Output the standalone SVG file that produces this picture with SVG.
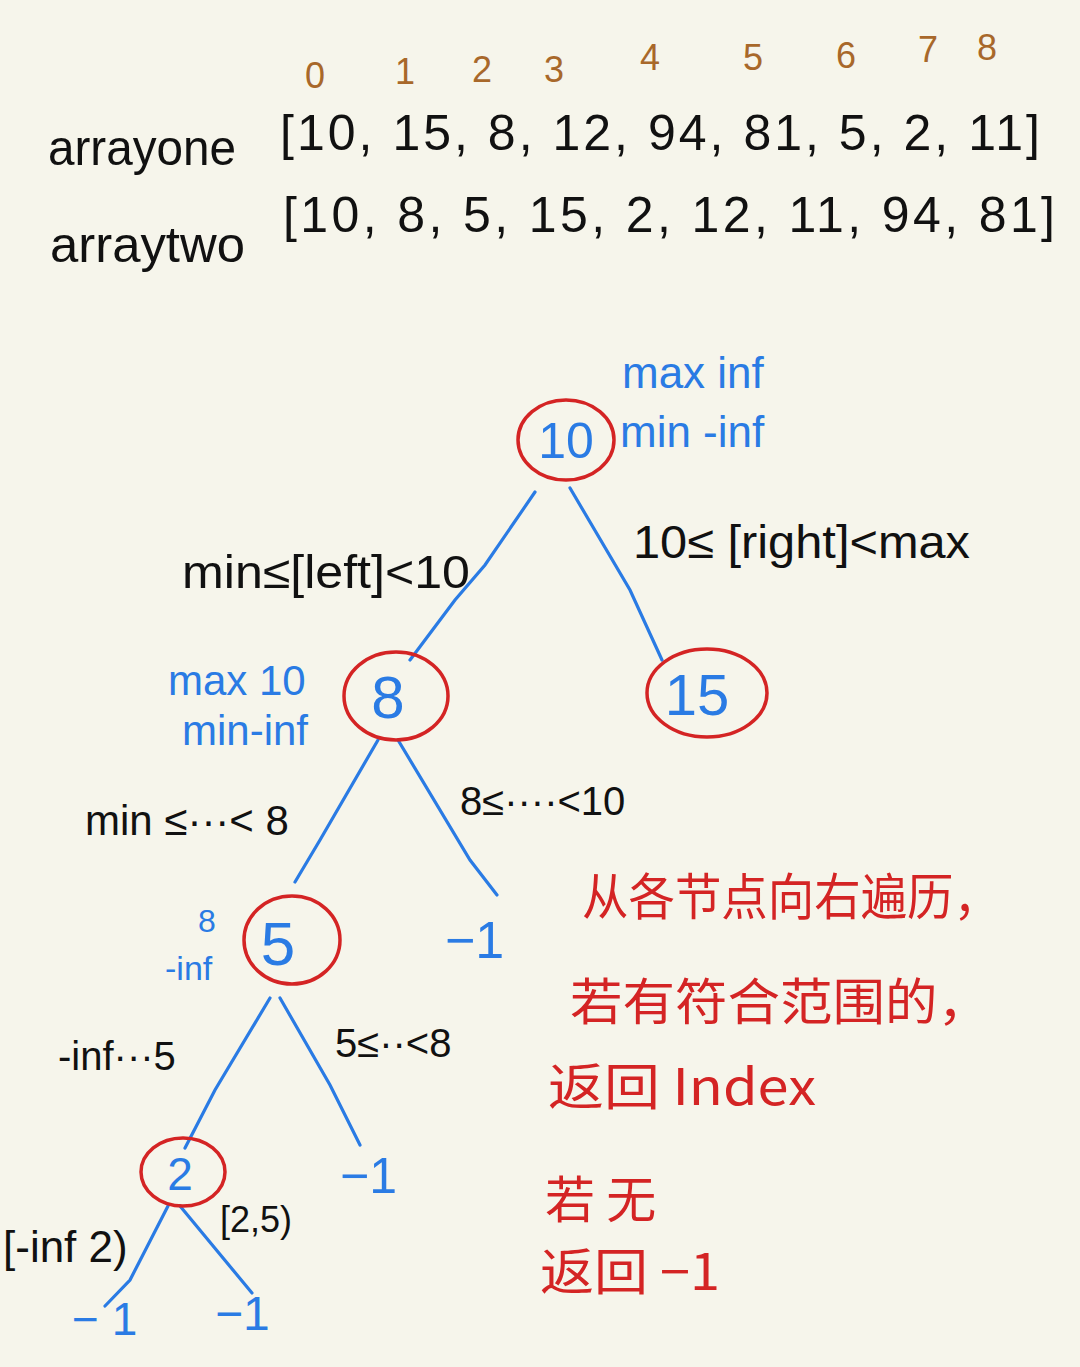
<svg xmlns="http://www.w3.org/2000/svg" width="1080" height="1367" viewBox="0 0 1080 1367">
<style>
.k{fill:#111;font-family:"Liberation Sans","Noto Sans",sans-serif}
.b{fill:#2a7be4;font-family:"Liberation Sans","Noto Sans",sans-serif}
.i{fill:#a8682a;font-family:"Liberation Sans",sans-serif;font-size:36px}
.r{fill:#d42424;font-family:"Noto Sans CJK SC","Liberation Sans",sans-serif;font-size:50px}
.ring{fill:none;stroke:#d42424;stroke-width:3.5}
.e{fill:none;stroke:#2a7be4;stroke-width:3.2;stroke-linecap:round}
</style>
<rect width="1080" height="1367" fill="#f6f5eb"/>
<g id="indices">
<text class="i" x="305" y="88">0</text>
<text class="i" x="395" y="84">1</text>
<text class="i" x="472" y="82">2</text>
<text class="i" x="544" y="82">3</text>
<text class="i" x="640" y="70">4</text>
<text class="i" x="743" y="70">5</text>
<text class="i" x="836" y="68">6</text>
<text class="i" x="918" y="62">7</text>
<text class="i" x="977" y="60">8</text>
</g>
<g id="arrays">
<text class="k" x="48" y="165" font-size="50" textLength="188" lengthAdjust="spacingAndGlyphs">arrayone</text>
<text class="k" x="280" y="150" font-size="50" textLength="760" lengthAdjust="spacing">[10, 15, 8, 12, 94, 81, 5, 2, 11]</text>
<text class="k" x="50" y="262" font-size="50" textLength="195" lengthAdjust="spacingAndGlyphs">arraytwo</text>
<text class="k" x="283" y="232" font-size="50" textLength="772" lengthAdjust="spacing">[10, 8, 5, 15, 2, 12, 11, 94, 81]</text>
</g>
<g id="connectors">
<path class="e" d="M535 492 L485 565 L455 600 L410 660"/>
<path class="e" d="M570 488 L630 590 L662 660"/>
<path class="e" d="M378 740 L320 840 L295 882"/>
<path class="e" d="M398 740 L470 860 L497 895"/>
<path class="e" d="M270 998 L215 1090 L185 1148"/>
<path class="e" d="M280 998 L330 1085 L360 1145"/>
<path class="e" d="M168 1206 L130 1280 L105 1306"/>
<path class="e" d="M180 1206 L252 1293"/>
</g>
<g id="node-10">
<ellipse class="ring" cx="566" cy="440" rx="48" ry="40"/>
<text class="b" x="566" y="458" font-size="50" text-anchor="middle">10</text>
<text class="b" x="622" y="388" font-size="44">max inf</text>
<text class="b" x="620" y="447" font-size="44">min -inf</text>
</g>
<g id="edge-labels-10">
<text class="k" x="182" y="588" font-size="46" textLength="288" lengthAdjust="spacingAndGlyphs">min≤[left]&lt;10</text>
<text class="k" x="633" y="558" font-size="46" textLength="337" lengthAdjust="spacingAndGlyphs">10≤ [right]&lt;max</text>
</g>
<g id="node-8">
<ellipse class="ring" cx="396" cy="696" rx="52" ry="44"/>
<text class="b" x="388" y="718" font-size="60" text-anchor="middle">8</text>
<text class="b" x="168" y="695" font-size="42">max 10</text>
<text class="b" x="182" y="745" font-size="42">min-inf</text>
</g>
<g id="node-15">
<ellipse class="ring" cx="707" cy="693" rx="60" ry="44"/>
<text class="b" x="697" y="715" font-size="58" text-anchor="middle">15</text>
</g>
<g id="edge-labels-8">
<text class="k" x="85" y="835" font-size="42">min ≤···&lt; 8</text>
<text class="k" x="460" y="815" font-size="40">8≤····&lt;10</text>
</g>
<g id="node-5">
<ellipse class="ring" cx="292" cy="940" rx="48" ry="44"/>
<text class="b" x="278" y="965" font-size="62" text-anchor="middle">5</text>
<text class="b" x="198" y="932" font-size="32">8</text>
<text class="b" x="165" y="980" font-size="34">-inf</text>
</g>
<g id="leaf-8-right">
<text class="b" x="445" y="958" font-size="52">−1</text>
</g>
<g id="edge-labels-5">
<text class="k" x="58" y="1070" font-size="40">-inf···5</text>
<text class="k" x="335" y="1057" font-size="40">5≤··&lt;8</text>
</g>
<g id="leaf-5-right">
<text class="b" x="340" y="1193" font-size="50">−1</text>
</g>
<g id="node-2">
<ellipse class="ring" cx="183" cy="1172" rx="42" ry="34"/>
<text class="b" x="180" y="1190" font-size="46" text-anchor="middle">2</text>
</g>
<g id="edge-labels-2">
<text class="k" x="3" y="1262" font-size="44">[-inf 2)</text>
<text class="k" x="220" y="1232" font-size="36">[2,5)</text>
</g>
<g id="leaf-2-left">
<text class="b" x="72" y="1335" font-size="46">− 1</text>
</g>
<g id="leaf-2-right">
<text class="b" x="215" y="1330" font-size="48">−1</text>
</g>
<g id="note">
<text class="r" x="582" y="915" textLength="418" lengthAdjust="spacingAndGlyphs">从各节点向右遍历，</text>
<text class="r" x="570" y="1020" textLength="420" lengthAdjust="spacingAndGlyphs">若有符合范围的，</text>
<text class="r" x="548" y="1105" textLength="268" lengthAdjust="spacingAndGlyphs">返回 Index</text>
<text class="r" x="545" y="1218">若 无</text>
<text class="r" x="540" y="1290" textLength="180" lengthAdjust="spacingAndGlyphs">返回 −1</text>
</g>
</svg>
